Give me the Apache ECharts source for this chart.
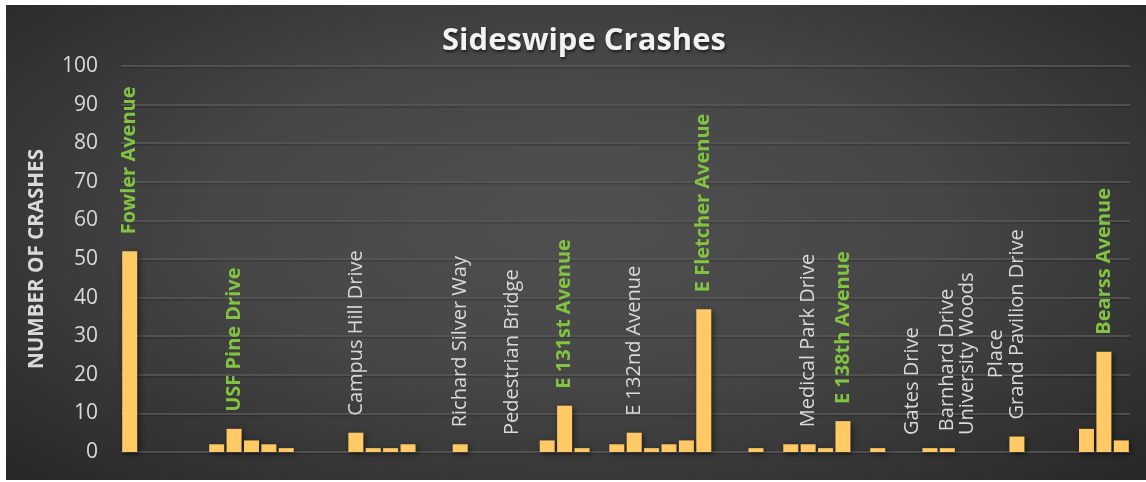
<!DOCTYPE html>
<html lang="en">
<head>
  <meta charset="UTF-8">
  <title>Sideswipe Crashes</title>
  <script src="https://cdn.jsdelivr.net/npm/echarts@6/dist/echarts.min.js"></script>
  <style type="text/css">
    html, body { margin: 0; padding: 0; background: #fff; }
    #bg {
      position: absolute; left: 6px; top: 5px; width: 1140px; height: 475px;
      background: radial-gradient(ellipse at 50% 45%, #505050 0%, #464646 45%, #272727 100%);
    }
    #main { position: absolute; left: 0; top: 0; width: 1146px; height: 482px; }
  </style>
</head>
<body>
  <div id="bg"></div>
  <div id="main"></div>

  <script type="text/javascript">
    // crashes per road segment (empty slots are gaps between corridors)
    var values = [52, null, null, null, null, 2, 6, 3, 2, 1, null, null, null, 5, 1, 1, 2, null, null, 2,
      null, null, 0, null, 3, 12, 1, null, 2, 5, 1, 2, 3, 37, null, null, 1, null, 2, 2,
      1, 8, null, 1, null, 0, 1, 1, null, 0, null, 4, null, null, null, 6, 26, 3];

    // street names written above some of the bars
    var streetSlots = [0, 6, 13, 19, 22, 25, 29, 33, 39, 41, 45, 47, 49, 51, 56];
    var streetNames = ['Fowler Avenue', 'USF Pine Drive', 'Campus Hill Drive', 'Richard Silver Way',
      'Pedestrian Bridge', 'E 131st Avenue', 'E 132nd Avenue', 'E Fletcher Avenue', 'Medical Park Drive',
      'E 138th Avenue', 'Gates Drive', 'Barnhard Drive', 'University Woods\nPlace', 'Grand Pavilion Drive',
      'Bearss Avenue'];
    var majorStreet = [true, true, false, false, false, true, false, true, false, true, false, false, false, false, true];

    var yTicks = [0, 10, 20, 30, 40, 50, 60, 70, 80, 90, 100];

    var categories = values.map(function (v, i) { return String(i + 1); });

    function labelFor(i) {
      var k = streetSlots.indexOf(i);
      if (k < 0) return '';
      var tag = majorStreet[k] ? 'g' : 'n';
      return streetNames[k].split('\n').map(function (s) {
        return '{' + tag + '|' + s + '}';
      }).join('\n');
    }

    var myChart = echarts.init(document.getElementById('main'));

    var option = {
      backgroundColor: 'transparent',
      title: {
        text: 'Sideswipe Crashes',
        left: 437,
        top: 21,
        textStyle: {
          color: '#f2f2f2',
          fontFamily: 'Open Sans',
          fontWeight: 'bold',
          fontSize: 31,
          textShadowColor: 'rgba(0,0,0,0.6)',
          textShadowBlur: 3,
          textShadowOffsetX: 1,
          textShadowOffsetY: 2
        }
      },
      grid: { left: 121, right: 16, top: 66, bottom: 30 },
      xAxis: {
        type: 'category',
        data: categories,
        axisLine: { show: false },
        axisTick: { show: false },
        axisLabel: { show: false },
        splitLine: { show: false }
      },
      yAxis: {
        type: 'value',
        min: yTicks[0],
        max: yTicks[yTicks.length - 1],
        interval: 10,
        name: 'NUMBER OF CRASHES',
        nameLocation: 'middle',
        nameGap: 73,
        nameTextStyle: {
          color: '#d9d9d9',
          fontFamily: 'Open Sans',
          fontWeight: 'bold',
          fontSize: 20.6
        },
        axisLine: { show: false },
        axisTick: { show: false },
        axisLabel: {
          color: '#d9d9d9',
          fontFamily: 'Open Sans',
          fontSize: 21,
          margin: 23
        },
        splitLine: {
          lineStyle: {
            color: '#5b5b5b',
            width: 1.5,
            shadowColor: 'rgba(0,0,0,0.35)',
            shadowBlur: 2,
            shadowOffsetY: 1
          }
        }
      },
      series: [{
        type: 'bar',
        data: values,
        barWidth: 15,
        itemStyle: {
          color: '#ffca66',
          shadowColor: 'rgba(0,0,0,0.5)',
          shadowBlur: 6,
          shadowOffsetX: 2,
          shadowOffsetY: 2
        },
        label: {
          show: true,
          position: 'top',
          distance: 17,
          rotate: 90,
          align: 'left',
          verticalAlign: 'middle',
          formatter: function (p) { return labelFor(p.dataIndex); },
          rich: {
            g: {
              color: '#82c341',
              fontFamily: 'Open Sans',
              fontWeight: 'bold',
              fontSize: 20,
              align: 'center',
              lineHeight: 29
            },
            n: {
              color: '#d9d9d9',
              fontFamily: 'Open Sans',
              fontSize: 20,
              align: 'center',
              lineHeight: 29
            }
          }
        }
      }]
    };

    myChart.setOption(option);
  </script>
</body>
</html>
